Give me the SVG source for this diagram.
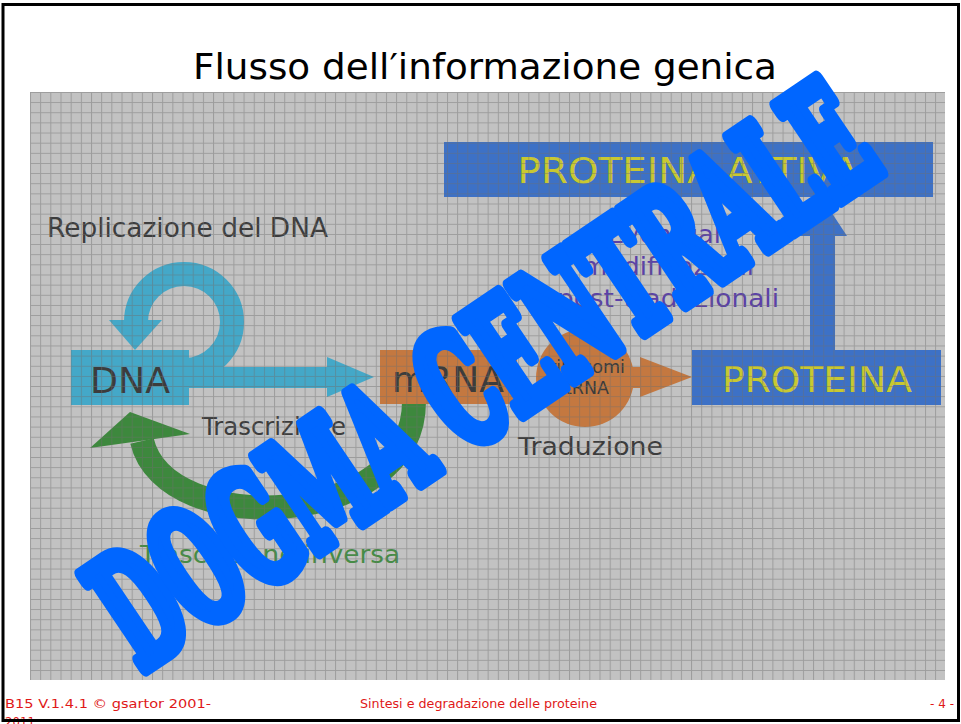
<svg xmlns="http://www.w3.org/2000/svg" width="961" height="724" viewBox="0 0 961 724">
<style>
.lbl{font-family:"DejaVu Sans","Liberation Sans",sans-serif;fill:#3c3c3c}
.big{font-family:"DejaVu Sans","Liberation Sans",sans-serif;font-size:36px}
.yel{fill:#c8c832}
.pur{font-family:"DejaVu Sans","Liberation Sans",sans-serif;font-size:24px;fill:#5a40a8}
.foot{font-family:"DejaVu Sans","Liberation Sans",sans-serif;font-size:13px;fill:#e01818}
.cyan{fill:#44a8c8}
.orng{fill:#c47840}
.blue{fill:#3d71c6}
</style>
<defs>
<pattern id="grid" patternUnits="userSpaceOnUse" x="30" y="92" width="10.17" height="10.14">
<path d="M0 0.5H10.17M0.5 0V10.14" stroke="#6e6e6e" stroke-width="1" fill="none"/>
</pattern>
</defs>
<rect x="0" y="0" width="961" height="724" fill="#ffffff"/>
<text x="485" y="79" text-anchor="middle" font-family="DejaVu Sans, Liberation Sans, sans-serif" font-size="36" fill="#000" textLength="584" lengthAdjust="spacingAndGlyphs">Flusso dell′informazione genica</text>
<rect x="30" y="92" width="915" height="588" fill="#c2c2c2"/>

<g id="connectors">
<g id="reverse-transcription">
<path d="M414 400 C416 530,165 540,142 441" fill="none" stroke="#3d883d" stroke-width="24"/>
<polygon points="90,448 130,412 190,434" fill="#3d883d"/>
</g>
<g id="replication">
<path d="M184 370 A48 48 0 1 0 136 322" fill="none" stroke="#44a8c8" stroke-width="24"/>
<polygon points="109,320 162,320 135,350" class="cyan"/>
</g>
<g id="transcription">
<polygon points="186,367 327,367 327,357 374,377 327,397 327,388 186,388" class="cyan"/>
</g>
<g id="translation">
<polygon points="600,367 640,367 640,357 692,377 640,397 640,388 600,388" class="orng"/>
</g>
<g id="maturation">
<polygon points="810,350 810,236 798,236 822,198 847,236 835,236 835,350" class="blue"/>
</g>
</g>

<g id="node-dna">
<rect x="71" y="350" width="118" height="55" class="cyan"/>
<text x="130" y="393" text-anchor="middle" class="big" fill="#3c3c3c" textLength="80" lengthAdjust="spacingAndGlyphs">DNA</text>
</g>
<g id="node-mrna">
<rect x="380" y="350" width="137" height="54" class="orng"/>
<text x="392" y="392" class="big" fill="#3c3c3c" textLength="112" lengthAdjust="spacingAndGlyphs">mRNA</text>
</g>
<g id="node-ribosome">
<circle cx="585" cy="378" r="49" class="orng"/>
<text x="587" y="373" text-anchor="middle" class="lbl" font-size="18" textLength="76" lengthAdjust="spacingAndGlyphs">ribosomi</text>
<text x="587" y="394" text-anchor="middle" class="lbl" font-size="18" textLength="44" lengthAdjust="spacingAndGlyphs">tRNA</text>
</g>
<g id="node-proteina">
<rect x="692" y="350" width="249" height="55" class="blue"/>
<text x="817" y="392" text-anchor="middle" class="big yel" textLength="190" lengthAdjust="spacingAndGlyphs">PROTEINA</text>
</g>
<g id="node-proteina-attiva">
<rect x="444" y="142" width="489" height="55" class="blue"/>
<text x="688" y="183" text-anchor="middle" class="big yel" font-size="34" textLength="341" lengthAdjust="spacingAndGlyphs">PROTEINA ATTIVA</text>
</g>

<g id="labels">
<text x="47" y="237" class="lbl" font-size="26" textLength="281" lengthAdjust="spacingAndGlyphs">Replicazione del DNA</text>
<text x="202" y="435" class="lbl" font-size="24" textLength="144" lengthAdjust="spacingAndGlyphs">Trascrizione</text>
<text x="518" y="455" class="lbl" font-size="24" textLength="145" lengthAdjust="spacingAndGlyphs">Traduzione</text>
<text x="140" y="563" class="lbl" font-size="24" style="fill:#468c46" textLength="260" lengthAdjust="spacingAndGlyphs">Trascrizione inversa</text>
<text x="668" y="243" text-anchor="middle" class="pur" textLength="120" lengthAdjust="spacingAndGlyphs">Eventuali</text>
<text x="668" y="275" text-anchor="middle" class="pur" textLength="172" lengthAdjust="spacingAndGlyphs">modificazioni</text>
<text x="668" y="307" text-anchor="middle" class="pur" textLength="222" lengthAdjust="spacingAndGlyphs">post-traduzionali</text>
</g>

<rect x="30" y="92" width="915" height="588" fill="url(#grid)" opacity="0.45"/>

<g id="watermark" transform="translate(513 420) rotate(-34) scale(1 1.8)">
<text x="0" y="0" text-anchor="middle" font-family="DejaVu Serif, Liberation Serif, serif" font-weight="bold" font-size="86" fill="#0066ff" stroke="#0066ff" stroke-width="9" stroke-linejoin="round" textLength="900" lengthAdjust="spacingAndGlyphs">DOGMA CENTRALE</text>
</g>

<g id="footer">
<text x="5" y="708" class="foot" textLength="206" lengthAdjust="spacingAndGlyphs">B15 V.1.4.1 © gsartor 2001-</text>
<text x="5" y="726" class="foot" textLength="30" lengthAdjust="spacingAndGlyphs">2011</text>
<text x="360" y="708" class="foot" textLength="237" lengthAdjust="spacingAndGlyphs">Sintesi e degradazione delle proteine</text>
<text x="930" y="708" class="foot" textLength="24" lengthAdjust="spacingAndGlyphs">- 4 -</text>
</g>
<rect x="3" y="4.5" width="955.5" height="716" fill="none" stroke="#000" stroke-width="3"/>
</svg>
